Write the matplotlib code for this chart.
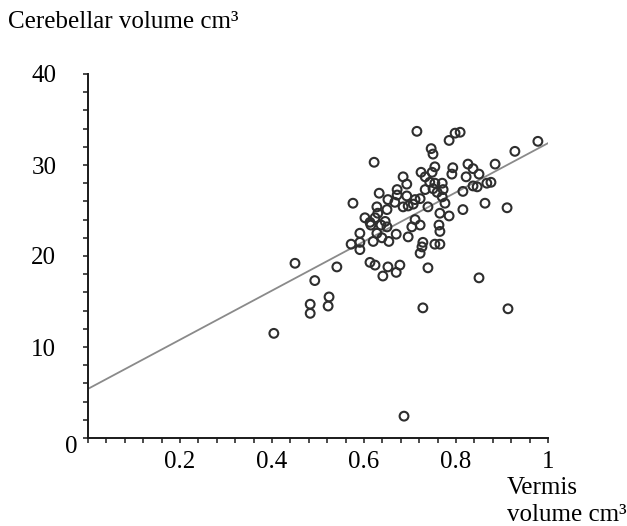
import matplotlib
matplotlib.use("Agg")
import matplotlib.pyplot as plt
import numpy as np

vermis = [0.715, 0.622, 0.785, 0.798, 0.809, 0.746, 0.750, 0.928, 0.978, 0.885,
          0.754, 0.793, 0.791, 0.826, 0.837, 0.850, 0.822, 0.724, 0.733, 0.748,
          0.685, 0.693, 0.743, 0.754, 0.770, 0.772,
          0.733, 0.750, 0.759, 0.693, 0.711, 0.722, 0.770, 0.776, 0.815, 0.837,
          0.846, 0.867, 0.876, 0.685, 0.696, 0.707, 0.739, 0.765, 0.785, 0.815,
          0.863, 0.911, 0.711, 0.722, 0.704, 0.763, 0.765, 0.696, 0.728, 0.726,
          0.722, 0.754, 0.765, 0.739,
          0.576, 0.450, 0.541, 0.613, 0.624, 0.652, 0.678, 0.633, 0.672, 0.672,
          0.652, 0.667, 0.628, 0.630, 0.650, 0.602,
          0.613, 0.624, 0.646, 0.615, 0.637, 0.650, 0.591, 0.628, 0.670, 0.591,
          0.572, 0.620, 0.639, 0.654, 0.591, 0.493, 0.483, 0.483, 0.524, 0.522,
          0.404, 0.641, 0.670, 0.850, 0.728, 0.913, 0.687]
cerebellar = [33.7, 30.3, 32.7, 33.5, 33.6, 31.8, 31.2, 31.5, 32.6, 30.1,
              29.8, 29.7, 29.0, 30.1, 29.6, 29.0, 28.7, 29.2, 28.7, 29.2,
              28.7, 27.9, 28.1, 28.0, 28.0, 27.3,
              27.3, 27.4, 27.0, 26.6, 26.2, 26.3, 26.5, 25.8, 27.1, 27.7,
              27.6, 28.0, 28.1, 25.4, 25.5, 25.7, 25.4, 24.7, 24.4, 25.1,
              25.8, 25.3, 24.0, 23.4, 23.2, 23.4, 22.7, 22.1, 21.5, 21.0,
              20.3, 21.3, 21.3, 18.7,
              25.8, 19.2, 18.8, 19.3, 19.0, 18.8, 19.0, 26.9, 27.3, 26.7,
              26.2, 25.9, 25.4, 24.7, 25.1, 24.2,
              23.7, 24.2, 23.8, 23.4, 23.4, 23.2, 22.5, 22.5, 22.4, 21.5,
              21.3, 21.6, 22.0, 21.6, 20.7, 17.3, 14.7, 13.7, 15.5, 14.5,
              11.5, 17.8, 18.2, 17.6, 14.3, 14.2, 2.4]

fit_x = [0.0, 1.0]
fit_intercept = 5.4
fit_slope = 27.0

x_ticks = [0.2, 0.4, 0.6, 0.8, 1.0]
x_tick_labels = ["0.2", "0.4", "0.6", "0.8", "1"]
y_ticks = [10, 20, 30, 40]
y_tick_labels = ["10", "20", "30", "40"]
origin_label = "0"

plt.rcParams['font.family'] = ['Liberation Serif', 'DejaVu Serif']
FS = 18

fig = plt.figure(figsize=(6.27, 5.26), dpi=100)
ax = fig.add_axes([88/627, 1-438/526, 460/627, 364/526])

fx = np.array(fit_x)
ax.plot(fx, fit_intercept + fit_slope * fx, color='#8a8a8a', lw=1.3, zorder=1)
ax.scatter(vermis, cerebellar, s=40, facecolors='none', edgecolors='#2e2e2e',
           linewidths=1.5, zorder=2)

ax.set_xlim(0, 1.0)
ax.set_ylim(0, 40)
for s in ['top', 'right']:
    ax.spines[s].set_visible(False)
for s in ['left', 'bottom']:
    ax.spines[s].set_linewidth(1.4)
    ax.spines[s].set_color('#1a1a1a')

ax.set_xticks(x_ticks)
ax.set_xticklabels(x_tick_labels)
ax.set_xticks(np.arange(0, 1.0001, 0.04), minor=True)
ax.set_yticks(y_ticks)
ax.set_yticklabels(y_tick_labels)
ax.set_yticks(np.arange(0, 40.001, 2), minor=True)
ax.tick_params(which='both', direction='out', length=3.8, width=1.1, color='#1a1a1a',
               labelsize=FS)
ax.tick_params(axis='x', pad=5.5)
ax.tick_params(axis='y', pad=19)

ax.annotate(origin_label, xy=(0, 0), xycoords='data', xytext=(-10, -9),
            textcoords='offset pixels', fontsize=FS, ha='right', va='center')

fig.text(8/627, 1-22/526, "Cerebellar volume cm³", fontsize=FS, ha='left', va='center')
fig.text(507/627, 1-488/526, "Vermis", fontsize=FS, ha='left', va='center')
fig.text(507/627, 1-515/526, "volume cm³", fontsize=FS, ha='left', va='center')

fig.savefig("out.png", dpi=100)
